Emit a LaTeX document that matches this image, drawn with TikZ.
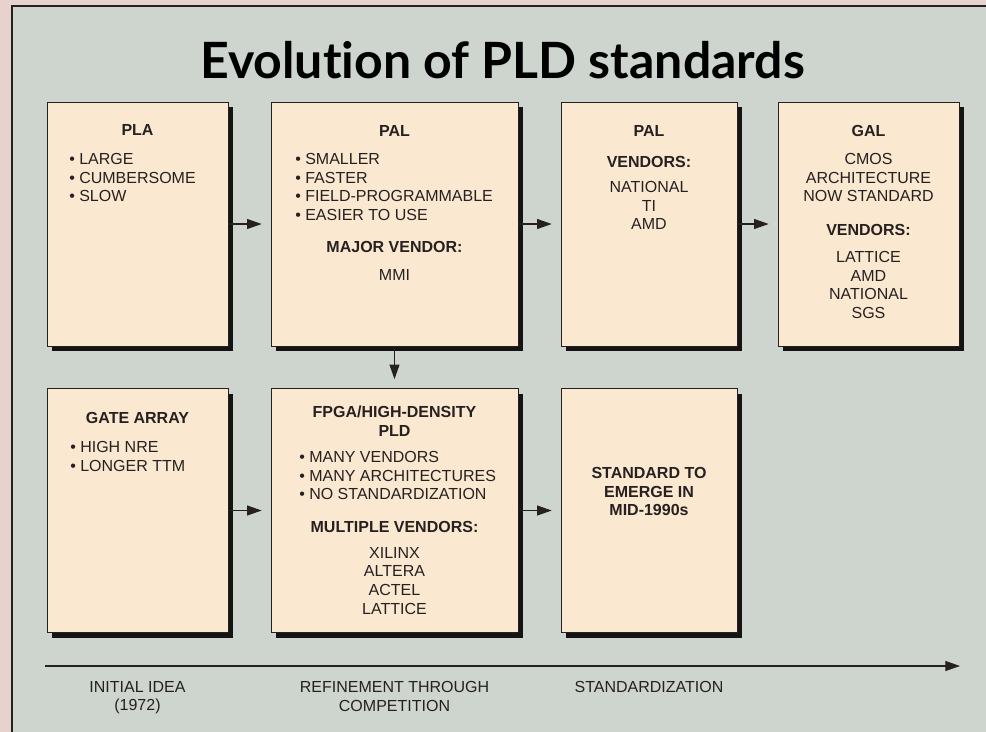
\documentclass[tikz,border=0pt]{standalone}
\usepackage{fontspec}
\setmainfont{Liberation Sans}
\newfontfamily\headfont{Lato}[Ligatures=NoCommon]
\usetikzlibrary{arrows.meta,shadows}
\definecolor{margin}{RGB}{232,210,205}
\definecolor{panel}{RGB}{205,213,206}
\definecolor{card}{RGB}{250,233,208}
\definecolor{ink}{RGB}{38,32,32}

\begin{document}
\begin{tikzpicture}[x=0.75pt,y=-0.75pt,
  >={Triangle[length=11pt,width=7.5pt]},
  card/.style={draw=ink,line width=0.6pt,fill=card,inner sep=0pt,outer sep=0pt,
    minimum height=183pt,
    drop shadow={shadow xshift=3.75pt,shadow yshift=-3.75pt,opacity=1,fill=black!92}},
  narrow/.style={card,minimum width=135.75pt},
  wide/.style={card,minimum width=185.25pt},
  mid/.style={card,minimum width=132pt},
  txt/.style={anchor=north,inner sep=0pt,text=ink,align=center,font=\fontsize{12}{14}\selectfont},
  hd/.style={txt,font=\fontsize{12}{14}\selectfont\bfseries},
  pts/.style={txt,anchor=north west,align=left},
  link/.style={->,line width=0.8pt,draw=ink,shorten >=7pt}]
  \useasboundingbox (0,0) rectangle (986,732);
  % page edge and panel
  \fill[margin] (0,0) rectangle (986,732);
  \fill[panel] (12,6) rectangle (986,732);
  \draw[ink,line width=0.8pt] (12,732) |- (986,6);
  \node[font=\headfont\bfseries\fontsize{37.5}{40}\selectfont,inner sep=0pt,anchor=base] (title)
    at (502.5,78) {Evolution of PLD standards};

  % first row
  \node[narrow] (pla) at (137.5,224) {};
  \node[wide] (pal) at (394.5,224) {};
  \node[mid] (palv) at (649,224) {};
  \node[narrow] (gal) at (868.5,224) {};
  % second row
  \node[narrow] (gate) at (137.5,510.5) {};
  \node[wide] (fpga) at (394.5,510.5) {};
  \node[mid] (std) at (649,510.5) {};

  % PLA
  \node[hd] (pla-hd) at (137.5,124) {PLA};
  \node[pts] (pla-pts) at (69,153) {• LARGE\\• CUMBERSOME\\• SLOW};
  % PAL
  \node[hd] (pal-hd) at (394.5,125) {PAL};
  \node[pts] (pal-pts) at (295,153) {• SMALLER\\• FASTER\\• FIELD-PROGRAMMABLE\\• EASIER TO USE};
  \node[hd] (pal-vhd) at (394.5,241) {MAJOR VENDOR:};
  \node[txt] (pal-ven) at (394.5,269) {MMI};
  % PAL vendors
  \node[hd] (palv-hd) at (649,125) {PAL};
  \node[hd] (palv-vhd) at (649,156) {VENDORS:};
  \node[txt] (palv-ven) at (649,181) {NATIONAL\\TI\\AMD};
  % GAL
  \node[hd] (gal-hd) at (868.5,125) {GAL};
  \node[txt] (gal-txt) at (868.5,153) {CMOS\\ARCHITECTURE\\NOW STANDARD};
  \node[hd] (gal-vhd) at (868.5,224) {VENDORS:};
  \node[txt] (gal-ven) at (868.5,251) {LATTICE\\AMD\\NATIONAL\\SGS};
  % gate array
  \node[hd] (gate-hd) at (137.5,412) {GATE ARRAY};
  \node[pts] (gate-pts) at (70,441) {• HIGH NRE\\• LONGER TTM};
  % FPGA
  \node[hd] (fpga-hd) at (394.5,406) {FPGA/HIGH-DENSITY\\PLD};
  \node[pts] (fpga-pts) at (299,451) {• MANY VENDORS\\• MANY ARCHITECTURES\\• NO STANDARDIZATION};
  \node[hd] (fpga-vhd) at (394.5,521) {MULTIPLE VENDORS:};
  \node[txt] (fpga-ven) at (394.5,547) {XILINX\\ALTERA\\ACTEL\\LATTICE};
  % standard
  \node[hd] (std-txt) at (649,467) {STANDARD TO\\EMERGE IN\\MID-1990s};

  % links
  \draw[link] (pla) -- (pal);
  \draw[link] (pal) -- (palv);
  \draw[link] (palv) -- (gal);
  \draw[link] (pal) -- (fpga);
  \draw[link] (gate) -- (fpga);
  \draw[link] (fpga) -- (std);

  % time line
  \coordinate (tl-a) at (45,666);
  \coordinate (tl-b) at (960,666);
  \draw[->,line width=0.8pt,ink] (tl-a) -- (tl-b);
  \node[txt] (tl-idea) at (137.5,681) {INITIAL IDEA\\(1972)};
  \node[txt] (tl-refine) at (394.5,681) {REFINEMENT THROUGH\\COMPETITION};
  \node[txt] (tl-std) at (649,681) {STANDARDIZATION};
\end{tikzpicture}
\end{document}
